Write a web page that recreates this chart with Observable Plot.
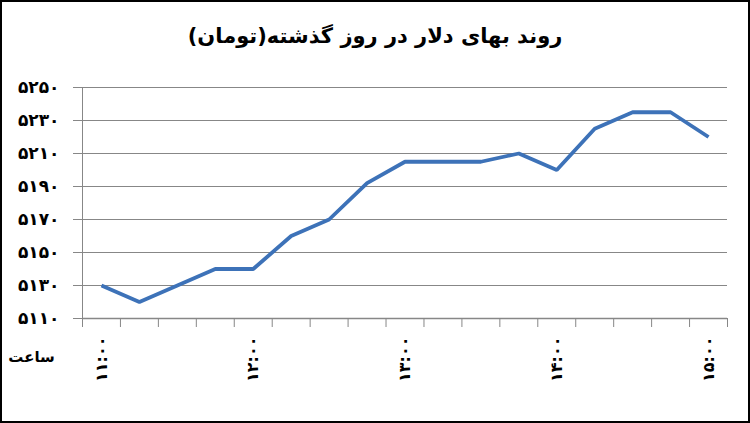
<!DOCTYPE html>
<html>
<head>
<meta charset="utf-8">
<script src="https://cdn.jsdelivr.net/npm/d3@7"></script>
<script src="https://cdn.jsdelivr.net/npm/@observablehq/plot@0.6"></script>
<style>
  html, body { margin: 0; padding: 0; background: #fff; }
  #wrap { position: relative; width: 750px; height: 423px; overflow: hidden; background: #fff; font-family: "DejaVu Sans", sans-serif; }
  #title { height: 70px; box-sizing: border-box; padding-top: 24px; text-align: center; direction: rtl; font-weight: bold; font-size: 21px; color: #000; }
  #frame { position: absolute; left: 0; top: 0; width: 750px; height: 423px; box-sizing: border-box; border: 2px solid #000; pointer-events: none; }
  #chart svg { display: block; }
</style>
</head>
<body>
<div id="wrap">
  <div id="title">روند بهای دلار در روز گذشته(تومان)</div>
  <div id="chart"></div>
  <div id="frame"></div>
</div>
<script>
// Data (15-minute steps, 11:00 to 15:00)
const times = ["11:00","11:15","11:30","11:45","12:00","12:15","12:30","12:45","13:00","13:15","13:30","13:45","14:00","14:15","14:30","14:45","15:00"];
const prices = [5130, 5120, 5130, 5140, 5140, 5160, 5170, 5192, 5205, 5205, 5205, 5210, 5200, 5225, 5235, 5235, 5220];
const yTicks = [5110, 5130, 5150, 5170, 5190, 5210, 5230, 5250];
const xLabelTimes = ["11:00", "12:00", "13:00", "14:00", "15:00"];
const xAxisTitle = "ساعت";

const faDigits = "۰۱۲۳۴۵۶۷۸۹";
const fa = s => String(s).replace(/\d/g, d => faDigits[d]);

const rows = times.map((t, i) => ({i, t, v: prices[i]}));
const labelRows = xLabelTimes.map(t => ({i: times.indexOf(t), label: fa(t)}));
const boundaries = d3.range(-0.5, times.length, 1);

const gray = "#878787";

const chart = Plot.plot({
  width: 750,
  height: 353,
  marginTop: 17,
  marginBottom: 105,
  marginLeft: 82,
  marginRight: 23,
  style: {fontFamily: "DejaVu Sans, sans-serif", background: "#fff"},
  x: {domain: [-0.5, times.length - 0.5]},
  y: {domain: [5110, 5250]},
  marks: [
    Plot.gridY(yTicks, {stroke: gray, strokeOpacity: 1, strokeWidth: 1}),
    Plot.axisY({ticks: yTicks, tickSize: 9, tickPadding: 14, tickFormat: fa, stroke: gray, fontSize: 17, fontWeight: "bold", fill: "#000", label: null}),
    Plot.ruleX([-0.5], {stroke: gray, strokeWidth: 1}),
    Plot.ruleY([5110], {stroke: gray, strokeWidth: 1.5}),
    Plot.axisX({ticks: boundaries, tickSize: 9, tickFormat: () => "", stroke: gray, label: null}),
    Plot.text(labelRows, {x: "i", y: () => 5110, text: "label", rotate: -90, textAnchor: "end", dy: 18, fontSize: 16, fontWeight: "bold", fill: "#000"}),
    Plot.text([xAxisTitle], {frameAnchor: "bottom-left", text: d => d, dx: -51, dy: 43, textAnchor: "middle", fontSize: 15, fontWeight: "bold", fill: "#000"}),
    Plot.line(rows, {x: "i", y: "v", stroke: "#3d72b8", strokeWidth: 3.8, strokeLinejoin: "miter", strokeLinecap: "butt"})
  ]
});
document.getElementById("chart").appendChild(chart);
</script>
</body>
</html>
